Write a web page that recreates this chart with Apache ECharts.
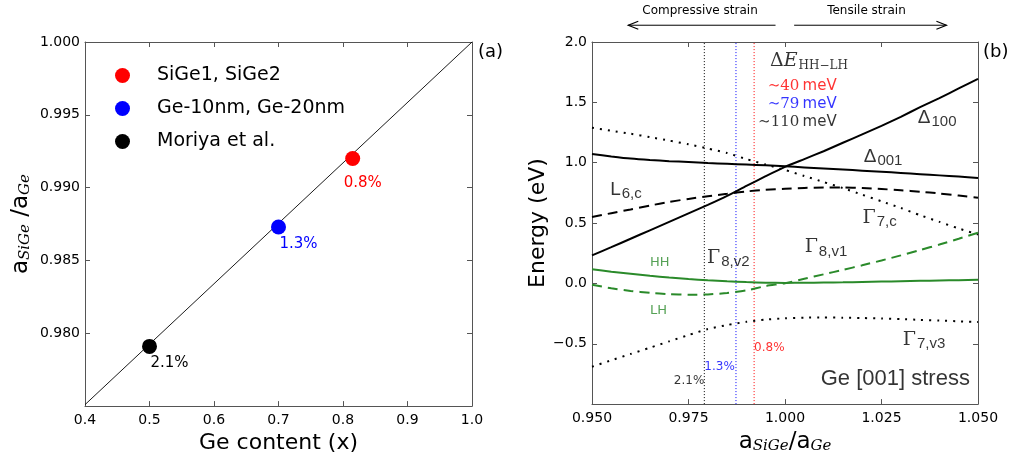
<!DOCTYPE html>
<html>
<head>
<meta charset="utf-8">
<script src="https://cdn.jsdelivr.net/npm/echarts@6/dist/echarts.min.js"></script>
<style>
  html, body { margin: 0; padding: 0; background: #ffffff; }
  #chart { width: 1018px; height: 459px; }
</style>
</head>
<body>
<div id="chart"></div>
<script>
// ---------- Panel (a): lattice ratio vs Ge content ----------
const sampleNames   = ['SiGe1, SiGe2', 'Ge-10nm, Ge-20nm', 'Moriya et al.'];
const sampleColors  = ['#ff0000', '#0000ff', '#000000'];
const geContent     = [0.815, 0.70, 0.50];
const latticeRatio  = [0.9920, 0.9873, 0.9791];
const strainLabels  = ['0.8%', '1.3%', '2.1%'];
const vegardX       = [0.4, 1.0];
const vegardY       = [0.9751, 1.0];

// ---------- Panel (b): band edges vs lattice ratio ----------
const ratioGrid = [0.950, 0.955, 0.960, 0.965, 0.970, 0.975, 0.980, 0.985, 0.990, 0.995, 1.000,
                   1.005, 1.010, 1.015, 1.020, 1.025, 1.030, 1.035, 1.040, 1.045, 1.050];
const delta100  = [0.232, 0.300, 0.370, 0.440, 0.510, 0.580, 0.650, 0.725, 0.808, 0.888, 0.965,
                   1.030, 1.095, 1.165, 1.235, 1.305, 1.380, 1.460, 1.535, 1.615, 1.695];
const delta001  = [1.072, 1.052, 1.034, 1.022, 1.013, 1.005, 0.997, 0.991, 0.985, 0.978, 0.970,
                   0.961, 0.952, 0.943, 0.934, 0.925, 0.915, 0.905, 0.895, 0.885, 0.874];
const l6c       = [0.550, 0.582, 0.613, 0.645, 0.675, 0.700, 0.722, 0.742, 0.762, 0.775, 0.784,
                   0.791, 0.795, 0.795, 0.790, 0.782, 0.772, 0.760, 0.745, 0.728, 0.710];
const gamma7c   = [1.290, 1.265, 1.240, 1.212, 1.183, 1.152, 1.118, 1.080, 1.030, 0.985, 0.940,
                   0.890, 0.840, 0.790, 0.735, 0.680, 0.625, 0.565, 0.510, 0.455, 0.405];
const heavyHole = [0.117, 0.097, 0.080, 0.063, 0.049, 0.036, 0.026, 0.018, 0.011, 0.006, 0.004,
                   0.005, 0.007, 0.009, 0.012, 0.015, 0.018, 0.021, 0.024, 0.027, 0.030];
const lightHole = [-0.012, -0.040, -0.062, -0.078, -0.089, -0.094, -0.091, -0.080, -0.058, -0.022, 0.002,
                   0.038, 0.075, 0.112, 0.150, 0.190, 0.232, 0.276, 0.322, 0.370, 0.420];
const gamma7v3  = [-0.690, -0.637, -0.585, -0.533, -0.480, -0.428, -0.378, -0.345, -0.318, -0.300, -0.289,
                   -0.284, -0.283, -0.284, -0.287, -0.291, -0.296, -0.302, -0.308, -0.314, -0.320];
const splitting = ['\u223c40', '\u223c79', '\u223c110'];

const SANS = 'DejaVu Sans';
const FRAME = '#555555';
const GREEN = '#2a8a2a';

const pair = (xs, ys) => xs.map((x, i) => [x, ys[i]]);

const chart = echarts.init(document.getElementById('chart'), null, { renderer: 'canvas' });

function frameAxis(extra) {
  return Object.assign({
    type: 'value',
    axisLine: { show: true, onZero: false, lineStyle: { color: FRAME, width: 1 } },
    axisTick: { show: true, inside: true, length: 5, lineStyle: { color: FRAME } },
    splitLine: { show: false },
    axisLabel: { show: false }
  }, extra);
}

const subItalic = { fontFamily: 'DejaVu Serif', fontStyle: 'italic', fontSize: 15, lineHeight: 15, padding: [9, 0, 0, 0], color: '#000' };
const mainA = { fontFamily: SANS, fontSize: 23, lineHeight: 24, color: '#000' };

// Text styles for band labels
const rich = {
  m: { fontFamily: 'Liberation Sans', fontSize: 19, lineHeight: 22, color: '#000' },
  g: { fontFamily: 'DejaVu Serif', fontSize: 19, lineHeight: 22, color: '#000' },
  s: { fontFamily: 'Liberation Sans', fontSize: 15, lineHeight: 15, padding: [8, 0, 0, 1], color: '#000' },
  d: { fontFamily: 'DejaVu Serif', fontSize: 19, lineHeight: 22, color: '#000' },
  e: { fontFamily: 'DejaVu Serif', fontStyle: 'italic', fontSize: 19, lineHeight: 22, color: '#000' },
  h: { fontFamily: 'DejaVu Serif', fontSize: 12, lineHeight: 12, padding: [9, 0, 0, 1], color: '#000' },
  tr: { fontFamily: 'DejaVu Serif', fontSize: 15, color: '#ff0000' },
  ur: { fontFamily: SANS, fontSize: 15, color: '#ff0000' },
  tb: { fontFamily: 'DejaVu Serif', fontSize: 15, color: '#0000ff' },
  ub: { fontFamily: SANS, fontSize: 15, color: '#0000ff' },
  tk: { fontFamily: 'DejaVu Serif', fontSize: 15, color: '#000' },
  uk: { fontFamily: SANS, fontSize: 15, color: '#000' },
  big: { fontFamily: 'Liberation Sans', fontSize: 22, color: '#000' },
  hh: { fontFamily: SANS, fontSize: 13, color: GREEN },
  pk: { fontFamily: SANS, fontSize: 12, color: '#000' },
  pb: { fontFamily: SANS, fontSize: 12, color: '#0000ff' },
  pr: { fontFamily: SANS, fontSize: 12, color: '#ff0000' }
};

// Label placement in (ratio, energy) coordinates; side = which side of the anchor the text sits
const bandNotes = [
  { text: '{d|\u0394}{e|E}{h|HH\u2212LH}', at: [0.9961, 1.839], side: 'right' },
  { text: '{tr|' + splitting[0] + '} {ur|meV}', at: [1.0134, 1.634], side: 'left' },
  { text: '{tb|' + splitting[1] + '} {ub|meV}', at: [1.0134, 1.484], side: 'left' },
  { text: '{tk|' + splitting[2] + '} {uk|meV}', at: [1.0134, 1.334], side: 'left' },
  { text: '{m|\u0394}{s|100}', at: [1.0344, 1.369], side: 'right' },
  { text: '{m|\u0394}{s|001}', at: [1.0204, 1.047], side: 'right' },
  { text: '{m|L}{s|6,c}', at: [0.9547, 0.773], side: 'right' },
  { text: '{g|\u0393}{s|7,c}', at: [1.0201, 0.541], side: 'right' },
  { text: '{g|\u0393}{s|8,v1}', at: [1.0051, 0.298], side: 'right' },
  { text: '{g|\u0393}{s|8,v2}', at: [0.9798, 0.213], side: 'right' },
  { text: '{g|\u0393}{s|7,v3}', at: [1.0305, -0.470], side: 'right' },
  { text: '{hh|HH}', at: [0.9650, 0.172], side: 'right' },
  { text: '{hh|LH}', at: [0.9650, -0.224], side: 'right' },
  { text: '{big|Ge [001] stress}', at: [1.0479, -0.795], side: 'left' },
  { text: '{pk|' + strainLabels[2] + '}', at: [latticeRatio[2], -0.811], side: 'left' },
  { text: '{pb|' + strainLabels[1] + '}', at: [latticeRatio[2], -0.689], side: 'right' },
  { text: '{pr|' + strainLabels[0] + '}', at: [latticeRatio[0], -0.533], side: 'right' }
];

const labelOffsets = [[-9, 5], [1, -3], [1, -3]];

const series = [];

// (a) Vegard line
series.push({
  type: 'line', xAxisIndex: 0, yAxisIndex: 0, data: pair(vegardX, vegardY),
  symbol: 'none', silent: true, lineStyle: { color: '#000', width: 0.9 }, z: 2
});
// (a) samples
sampleNames.forEach((name, i) => {
  series.push({
    name: name, type: 'scatter', xAxisIndex: 0, yAxisIndex: 0,
    data: [[geContent[i], latticeRatio[i]]],
    symbol: 'circle', symbolSize: 15, itemStyle: { color: sampleColors[i], opacity: 1 }, z: 5,
    label: {
      show: true, position: 'bottom', align: 'left', distance: 5, offset: labelOffsets[i],
      formatter: strainLabels[i], color: sampleColors[i], fontFamily: SANS, fontSize: 15
    }
  });
});

// (b) sample positions on the strain axis
const vColors = ['#ff0000', '#0000ff', '#000000'];
latticeRatio.forEach((r, i) => {
  series.push({
    type: 'line', xAxisIndex: 2, yAxisIndex: 2, data: [[r, -1], [r, 2]],
    symbol: 'none', silent: true, z: 1,
    lineStyle: { color: vColors[i], width: 1, type: [1, 2] }
  });
});

function band(data, color, width, type) {
  return {
    type: 'line', xAxisIndex: 2, yAxisIndex: 2, data: pair(ratioGrid, data),
    symbol: 'none', smooth: 0.2, silent: true, z: 3,
    lineStyle: { color: color, width: width, type: type, cap: 'butt' }
  };
}
series.push(band(gamma7c, '#000', 2, [2, 6]));
series.push(band(l6c, '#000', 2, [10, 6]));
series.push(band(delta001, '#000', 2, 'solid'));
series.push(band(delta100, '#000', 2, 'solid'));
series.push(band(heavyHole, GREEN, 2, 'solid'));
series.push(band(lightHole, GREEN, 2, [10, 6]));
series.push(band(gamma7v3, '#000', 2, [2, 6]));

// (b) text labels
series.push({
  type: 'scatter', xAxisIndex: 2, yAxisIndex: 2, symbolSize: 0, silent: true, z: 10,
  data: bandNotes.map(n => ({
    value: n.at,
    label: { show: true, position: n.side, distance: 0, formatter: n.text, rich: rich }
  }))
});

const option = {
  animation: false,
  backgroundColor: '#ffffff',
  grid: [
    { left: 85, top: 42, width: 387, height: 365 },
    { left: 592, top: 42, width: 386, height: 365 }
  ],
  legend: {
    data: sampleNames, orient: 'vertical', left: 110, top: 61,
    icon: 'circle', itemWidth: 15, itemHeight: 15, itemGap: 14,
    textStyle: { fontFamily: SANS, fontSize: 19, color: '#000', padding: [0, 0, 0, 22], lineHeight: 15 },
    selectedMode: false
  },
  xAxis: [
    frameAxis({
      gridIndex: 0, position: 'bottom', min: 0.4, max: 1.0, interval: 0.1,
      axisLabel: { show: true, margin: 7, color: '#000', fontFamily: SANS, fontSize: 14, formatter: v => v.toFixed(1) },
      name: 'Ge content (x)', nameLocation: 'middle', nameGap: 21,
      nameTextStyle: { fontFamily: SANS, fontSize: 22, color: '#000' }
    }),
    frameAxis({ gridIndex: 0, position: 'top', min: 0.4, max: 1.0, interval: 0.1 }),
    frameAxis({
      gridIndex: 1, position: 'bottom', min: 0.95, max: 1.05, interval: 0.025,
      axisLabel: { show: true, margin: 7, color: '#000', fontFamily: SANS, fontSize: 14, formatter: v => v.toFixed(3) },
      name: '{a|a}{s|SiGe}{a|/a}{s|Ge}', nameLocation: 'middle', nameGap: 18,
      nameTextStyle: { rich: { a: mainA, s: subItalic } }
    }),
    frameAxis({ gridIndex: 1, position: 'top', min: 0.95, max: 1.05, interval: 0.025 })
  ],
  yAxis: [
    frameAxis({
      gridIndex: 0, position: 'left', min: 0.975, max: 1.0, interval: 0.005,
      axisLabel: { show: true, margin: 5, color: '#000', fontFamily: SANS, fontSize: 14,
        formatter: v => (Math.abs(v - 0.975) < 1e-7 ? '' : v.toFixed(3)) },
      name: '{a|a}{s|SiGe}{a| /a}{s|Ge}', nameLocation: 'middle', nameRotate: 90, nameGap: 52,
      nameTextStyle: { rich: { a: mainA, s: subItalic } }
    }),
    frameAxis({ gridIndex: 0, position: 'right', min: 0.975, max: 1.0, interval: 0.005 }),
    frameAxis({
      gridIndex: 1, position: 'left', min: -1, max: 2, interval: 0.5,
      axisLabel: { show: true, margin: 5, color: '#000', fontFamily: SANS, fontSize: 14,
        formatter: v => (Math.abs(v + 1) < 1e-7 ? '' : (v < 0 ? '\u2212' + Math.abs(v).toFixed(1) : v.toFixed(1))) },
      name: 'Energy (eV)', nameLocation: 'middle', nameRotate: 90, nameGap: 41,
      nameTextStyle: { fontFamily: SANS, fontSize: 22, color: '#000' }
    }),
    frameAxis({ gridIndex: 1, position: 'right', min: -1, max: 2, interval: 0.5 })
  ],
  series: series
};

chart.setOption(option);

// Strain-direction arrows above panel (b), placed in its data coordinates
const arrowY = 2.139, arrowTextY = 2.26;
const px = (x, y) => chart.convertToPixel({ gridIndex: 1 }, [x, y]);
function arrow(fromX, toX) {
  const a = px(fromX, arrowY), b = px(toX, arrowY);
  const dir = Math.sign(b[0] - a[0]);
  return [
    { type: 'line', shape: { x1: a[0], y1: a[1], x2: b[0], y2: b[1] }, style: { stroke: '#000', lineWidth: 1 } },
    { type: 'polyline', shape: { points: [[b[0] - dir * 10, b[1] - 4], [b[0], b[1]], [b[0] - dir * 10, b[1] + 4]] },
      style: { stroke: '#000', lineWidth: 1.2, fill: null } }
  ];
}
function topText(x, str) {
  const p = px(x, arrowTextY);
  return { type: 'text', x: p[0], y: p[1], style: { text: str, font: '12px "DejaVu Sans"', fill: '#000', align: 'center', verticalAlign: 'middle' } };
}
const graphics = [].concat(
  arrow(0.99755, 0.95940),
  arrow(1.00237, 1.04182),
  [topText(0.97799, 'Compressive strain'), topText(1.02111, 'Tensile strain')],
  [
    { type: 'text', x: 478, y: 52, style: { text: '(a)', font: '18px "DejaVu Sans"', fill: '#000', verticalAlign: 'middle' } },
    { type: 'text', x: 983, y: 52, style: { text: '(b)', font: '18px "DejaVu Sans"', fill: '#000', verticalAlign: 'middle' } }
  ]
);
chart.setOption({ graphic: graphics });
</script>
</body>
</html>
